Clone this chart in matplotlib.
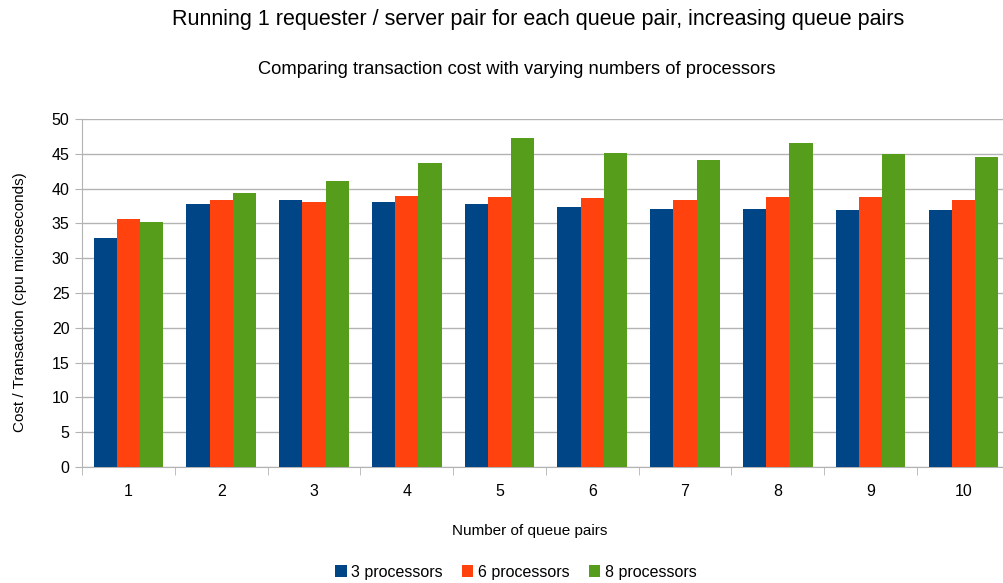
import numpy as np
import matplotlib.pyplot as plt

plt.rcParams['font.family'] = ['Liberation Sans', 'DejaVu Sans']

# Numero de pares de colas y coste por transaccion
queue_pairs = ['1', '2', '3', '4', '5', '6', '7', '8', '9', '10']
series_names = ['3 processors', '6 processors', '8 processors']
cost_3 = [32.9, 37.8, 38.3, 38.0, 37.8, 37.3, 37.1, 37.0, 36.9, 36.9]
cost_6 = [35.6, 38.4, 38.1, 39.0, 38.8, 38.6, 38.4, 38.8, 38.8, 38.4]
cost_8 = [35.2, 39.3, 41.1, 43.7, 47.3, 45.1, 44.1, 46.6, 45.0, 44.5]
colors = ['#004586', '#ff420e', '#579d1c']

W, H = 1004, 583
fig = plt.figure(figsize=(W / 100, H / 100), dpi=100)
ax = fig.add_axes([0.0817, 0.199, 0.924, 0.597])

x = np.arange(len(queue_pairs))
w = 0.25
for i, (vals, name, c) in enumerate(zip([cost_3, cost_6, cost_8], series_names, colors)):
    ax.bar(x + (i - 1) * w, vals, width=w, color=c, label=name, zorder=3)

ax.set_xlim(-0.5, len(queue_pairs) - 0.5)
ax.set_ylim(0, 50)
ax.set_yticks(np.arange(0, 51, 5))
ax.set_xticks(x)
ax.set_xticklabels(queue_pairs)
ax.set_xticks(np.arange(-0.5, len(queue_pairs), 1), minor=True)
ax.tick_params(axis='x', which='major', length=0, pad=12, labelsize=11.5)
ax.tick_params(axis='x', which='minor', length=6, color='#b3b3b3')
ax.tick_params(axis='y', length=5, color='#b3b3b3', labelsize=11.5, pad=4)
ax.grid(axis='y', color='#b3b3b3', linewidth=1, zorder=0)
for s in ['top', 'right']:
    ax.spines[s].set_visible(False)
for s in ['left', 'bottom']:
    ax.spines[s].set_color('#b3b3b3')

ax.set_ylabel('Cost / Transaction (cpu microseconds)', fontsize=11)
ax.set_xlabel('Number of queue pairs', fontsize=11)
ax.yaxis.set_label_coords(-0.059, 0.474)
ax.xaxis.set_label_coords(0.483, -0.165)

fig.text(538 / W, 1 - 20 / H, 'Running 1 requester / server pair for each queue pair, increasing queue pairs',
         ha='center', va='center', fontsize=15.5)
fig.text(517 / W, 1 - 69 / H, 'Comparing transaction cost with varying numbers of processors',
         ha='center', va='center', fontsize=13.2)

fig.legend(loc='center', bbox_to_anchor=(516 / W, 1 - 572 / H), ncol=3, frameon=False,
           fontsize=11.5, handlelength=0.7, handleheight=0.7, handletextpad=0.3, columnspacing=1.2)

plt.savefig('out.png', dpi=100)
